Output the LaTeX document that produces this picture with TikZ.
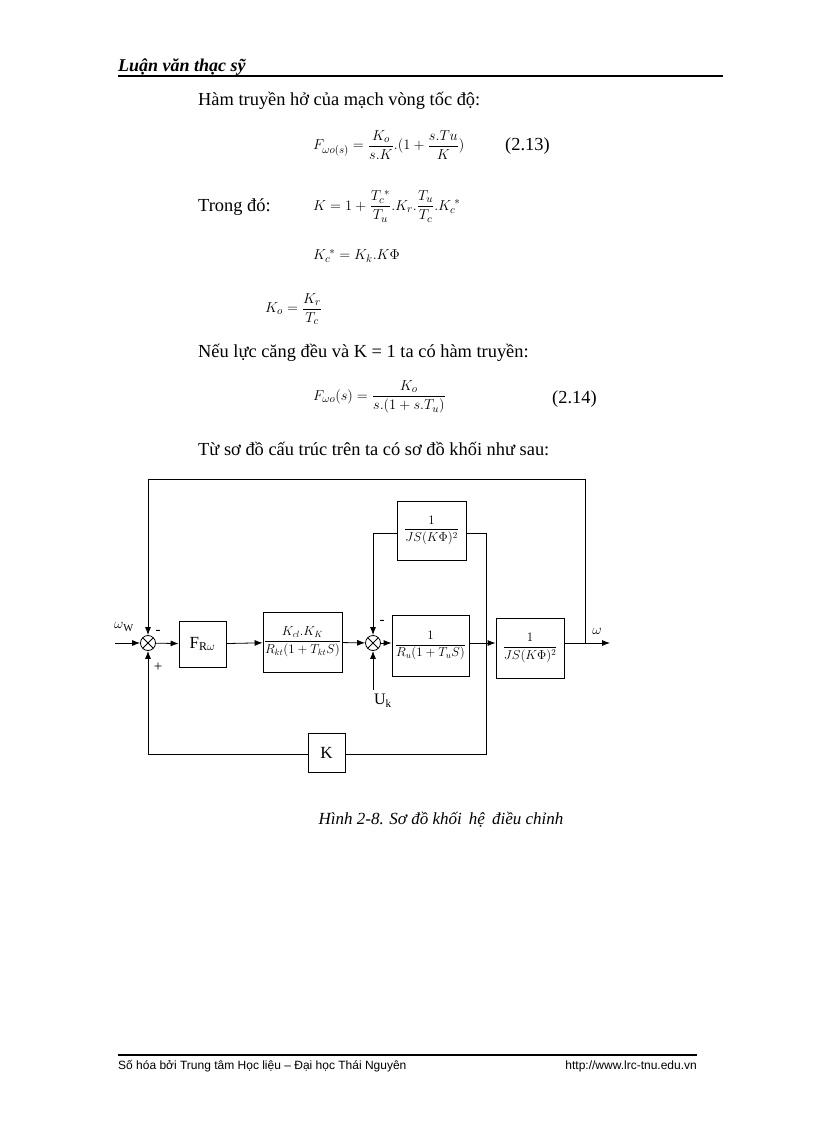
\documentclass[tikz,border=0pt]{standalone}
\usepackage{amsmath}
\usepackage{fontspec}
\setmainfont{Liberation Serif}
\newfontfamily\footfont{Liberation Sans}
\usetikzlibrary{arrows.meta}
\newcommand{\bxf}[1]{\scalebox{0.9}{\fontsize{14}{16}\selectfont$\displaystyle #1$}}
\begin{document}
\begin{tikzpicture}[x=1pt,y=-1pt,
  blk/.style={draw,thick,fill=white,inner sep=0pt},
  sumn/.style={draw,thick,circle,minimum size=15pt,inner sep=0pt,path picture={\draw (path picture bounding box.north west)--(path picture bounding box.south east) (path picture bounding box.north east)--(path picture bounding box.south west);}},
  sig/.style={thick,-{Latex[length=8pt,width=6pt]}},
  wire/.style={thick},
  txt/.style={anchor=base west,inner sep=0pt,font=\fontsize{18.4}{22}\selectfont},
  eq/.style={anchor=west,inner sep=0pt,font=\fontsize{15}{18}\selectfont}]
\useasboundingbox (0,0) rectangle (816,1123);
\node[anchor=base west,inner sep=0pt,font=\fontsize{18}{20}\selectfont\bfseries\itshape] (hdr) at (118,72) {Luận văn thạc sỹ};
\draw[line width=2.5pt] (118,76) -- (723,76);
\node[txt] (t1) at (198,106) {Hàm truyền hở của mạch vòng tốc độ:};
\node[eq] (e1) at (313,145) {$F_{\omega o(s)}=\dfrac{K_o}{s.K}.(1+\dfrac{s.Tu}{K})$};
\node[txt] (n1) at (505,151) {(2.13)};
\node[txt] (t2) at (198,212) {Trong đó:};
\node[eq] (e2) at (313,206) {$K=1+\dfrac{T_c^{\;*}}{T_u}.K_r.\dfrac{T_u}{T_c}.K_c^{\;*}$};
\node[eq] (e3) at (313,256) {$K_c^{\;*}=K_k.K\Phi$};
\node[eq] (e4) at (265,309) {$K_o=\dfrac{K_r}{T_c}$};
\node[txt] (t3) at (198,357) {Nếu lực căng đều và K = 1 ta có hàm truyền:};
\node[eq] (e5) at (313,397) {$F_{\omega o}(s)=\dfrac{K_o}{s.(1+s.T_u)}$};
\node[txt] (n2) at (552,403) {(2.14)};
\node[txt] (t4) at (198,455) {Từ sơ đồ cấu trúc trên ta có sơ đồ khối như sau:};
% diagram
\node[sumn] (s1) at (148,643) {};
\node[sumn] (s2) at (373,643) {};
\node[blk,minimum width=47pt,minimum height=46pt] (fr) at (202.5,644) {\fontsize{17}{18}\selectfont F\textsubscript{R$\omega$}};
\node[blk,minimum width=79pt,minimum height=60pt] (b2) at (302.5,642) {\bxf{\frac{K_{cl}.K_K}{R_{kt}(1+T_{kt}S)}}};
\node[blk,minimum width=77pt,minimum height=61pt] (b3) at (430.5,645.5) {\bxf{\frac{1}{R_u(1+T_uS)}}};
\node[blk,minimum width=69pt,minimum height=59pt] (bt) at (431.5,530.5) {\bxf{\frac{1}{JS(K\Phi)^2}}};
\node[blk,minimum width=68pt,minimum height=60pt] (b4) at (530,648) {\bxf{\frac{1}{JS(K\Phi)^2}}};
\node[blk,minimum width=37pt,minimum height=39pt] (kb) at (326.5,752.5) {\fontsize{17}{18}\selectfont K};
\coordinate (in) at (115,643);
\coordinate (out) at (610,643);
\coordinate (br) at (585,643);
\coordinate (tr) at (585,479);
\coordinate (tl) at (148,479);
\coordinate (bl) at (148,754);
\coordinate (fb) at (486,643);
\coordinate (fbb) at (486,754);
\coordinate (uk) at (373,690);
\draw[sig] (in) -- (s1);
\draw[sig] (s1) -- (fr);
\draw[sig] (fr) -- (b2);
\draw[sig] (b2) -- (s2);
\draw[sig] (s2) -- (b3.west|-s2);
\draw[sig] (b3.east|-s2) -- (b4.west|-s2);
\draw[sig] (b4.east|-s2) -- (out);
\draw[wire] (br) -- (tr) -- (tl);
\draw[sig] (tl) -- (s1.north);
\draw[sig] (bl) -- (s1.south);
\draw[wire] (bl) -- (kb.west|-bl);
\draw[wire] (kb.east|-bl) -- (fbb) -- (fb);
\draw[wire] (fb) |- (bt.east|-0,533);
\draw[sig] (bt.west|-0,533) -| (s2.north);
\draw[sig] (uk) -- (s2.south);
\node[font=\fontsize{15}{16}\selectfont] (lw) at (124,627) {$\omega$\textsubscript{W}};
\node[font=\fontsize{15}{16}\selectfont] (lo) at (597,631) {$\omega$};
\node[font=\fontsize{15}{16}\selectfont] (m1) at (158,632) {-};
\node[font=\fontsize{15}{16}\selectfont] (p1) at (158,667) {+};
\node[font=\fontsize{15}{16}\selectfont] (m2) at (382,622) {-};
\node[font=\fontsize{16}{16}\selectfont] (lu) at (383,701) {U\textsubscript{k}};
\node[font=\fontsize{17}{18}\selectfont\itshape] (cap) at (441,820) {Hình 2-8. Sơ đồ khối\, hệ\, điều chỉnh};
\draw[line width=1.5pt] (118,1055) -- (697,1055);
\node[anchor=base west,inner sep=0pt,font=\footfont\fontsize{12}{14}\selectfont] (f1) at (118,1069) {Số hóa bởi Trung tâm Học liệu – Đại học Thái Nguyên};
\node[anchor=base east,inner sep=0pt,font=\footfont\fontsize{12}{14}\selectfont] (f2) at (697,1069) {http://www.lrc-tnu.edu.vn};
\end{tikzpicture}
\end{document}
